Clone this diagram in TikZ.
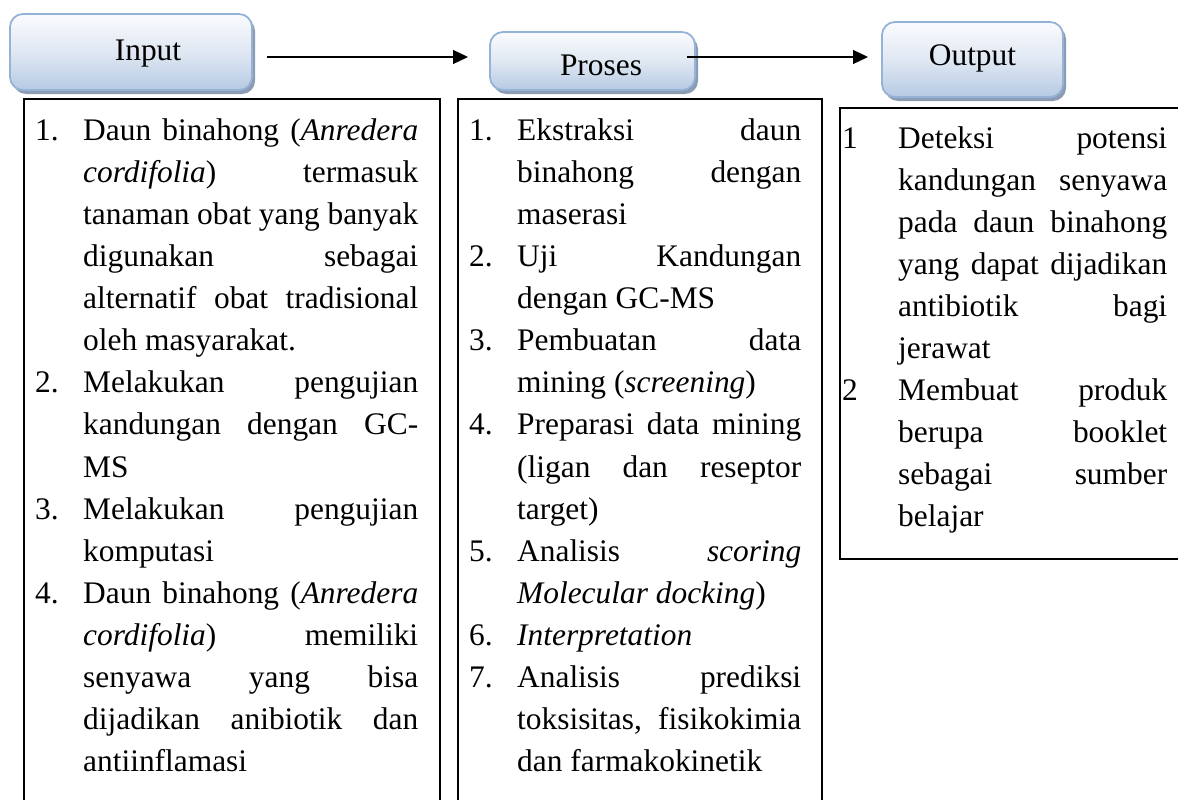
\documentclass[tikz,border=0pt]{standalone}
\usepackage{fontspec}
\setmainfont[Ligatures=NoCommon]{Liberation Serif}
\usetikzlibrary{arrows.meta,shadows}
\definecolor{hdrtop}{RGB}{250,251,253}
\definecolor{hdrmid}{RGB}{224,232,243}
\definecolor{hdrbot}{RGB}{182,202,227}
\definecolor{hdrline}{RGB}{149,179,215}
\definecolor{hdrshadow}{RGB}{140,156,178}
\newcommand{\jl}[2]{\makebox[#1pt][s]{#2}}
\newcommand{\lstfont}{\fontsize{31.4}{42}\selectfont}
\begin{document}
\begin{tikzpicture}[x=1pt,y=-1pt,
  hdr/.style={rectangle, rounded corners=13pt, draw=hdrline, line width=1.8pt,
    top color=hdrtop, bottom color=hdrbot, middle color=hdrmid,
    drop shadow={shadow xshift=3pt, shadow yshift=-4pt, fill=hdrshadow, opacity=1},
    font=\lstfont, inner sep=0pt},
  frame/.style={draw=black, line width=1.3pt},
  flow/.style={draw=black, line width=1.3pt, -{Triangle[length=15pt,width=14pt]}},
  ln/.style={anchor=base west, inner sep=0pt, font=\lstfont}]
\useasboundingbox (0,0) rectangle (1178,800);
\clip (0,0) rectangle (1178,800);

% header boxes
\node[hdr, minimum width=242pt, minimum height=76pt, text height=22pt, text depth=6pt] (inbox) at (131,52) {\hspace*{34pt}Input};
\node[hdr, minimum width=205pt, minimum height=58pt, text height=28pt, text depth=0pt] (prbox) at (592.5,61) {\hspace*{17pt}Proses};
\node[hdr, minimum width=181pt, minimum height=75pt, text height=21pt, text depth=8pt] (outbox) at (972.5,59.5) {Output};

% connectors
\coordinate (a1s) at (267,57);
\coordinate (a1e) at (468,57);
\coordinate (a2s) at (687,57);
\coordinate (a2e) at (868,57);
\draw[flow] (a1s) -- (a1e);
\draw[flow] (a2s) -- (a2e);

% list frames
\draw[frame] (24,805) -- (24,99) -- (440,99) -- (440,805);
\draw[frame] (458,805) -- (458,99) -- (822,99) -- (822,805);
\draw[frame] (1190,108) -- (840,108) -- (840,559) -- (1190,559);

% Input list
\node[ln] (i1n) at (35,140) {1.};
\node[ln] (i1a) at (83,140) {\jl{335}{Daun binahong (\textit{Anredera}}};
\node[ln] (i1b) at (83,182) {\jl{335}{\textit{cordifolia}) termasuk}};
\node[ln] (i1c) at (83,224) {\jl{335}{tanaman obat yang banyak}};
\node[ln] (i1d) at (83,266) {\jl{335}{digunakan sebagai}};
\node[ln] (i1e) at (83,308) {\jl{335}{alternatif obat tradisional}};
\node[ln] (i1f) at (83,350) {oleh masyarakat.};
\node[ln] (i2n) at (35,392) {2.};
\node[ln] (i2a) at (83,392) {\jl{335}{Melakukan pengujian}};
\node[ln] (i2b) at (83,434) {\jl{335}{kandungan dengan GC-}};
\node[ln] (i2c) at (83,477) {MS};
\node[ln] (i3n) at (35,519) {3.};
\node[ln] (i3a) at (83,519) {\jl{335}{Melakukan pengujian}};
\node[ln] (i3b) at (83,561) {komputasi};
\node[ln] (i4n) at (35,603) {4.};
\node[ln] (i4a) at (83,603) {\jl{335}{Daun binahong (\textit{Anredera}}};
\node[ln] (i4b) at (83,645) {\jl{335}{\textit{cordifolia}) memiliki}};
\node[ln] (i4c) at (83,687) {\jl{335}{senyawa yang bisa}};
\node[ln] (i4d) at (83,729) {\jl{335}{dijadikan anibiotik dan}};
\node[ln] (i4e) at (83,771) {antiinflamasi};

% Proses list
\node[ln] (p1n) at (469,140) {1.};
\node[ln] (p1a) at (517,140) {\jl{284}{Ekstraksi daun}};
\node[ln] (p1b) at (517,182) {\jl{284}{binahong dengan}};
\node[ln] (p1c) at (517,224) {maserasi};
\node[ln] (p2n) at (469,266) {2.};
\node[ln] (p2a) at (517,266) {\jl{284}{Uji Kandungan}};
\node[ln] (p2b) at (517,308) {dengan GC-MS};
\node[ln] (p3n) at (469,350) {3.};
\node[ln] (p3a) at (517,350) {\jl{284}{Pembuatan data}};
\node[ln] (p3b) at (517,392) {mining (\textit{screening})};
\node[ln] (p4n) at (469,434) {4.};
\node[ln] (p4a) at (517,434) {\jl{284}{Preparasi data mining}};
\node[ln] (p4b) at (517,477) {\jl{284}{(ligan dan reseptor}};
\node[ln] (p4c) at (517,519) {target)};
\node[ln] (p5n) at (469,561) {5.};
\node[ln] (p5a) at (517,561) {\jl{284}{Analisis \textit{scoring}}};
\node[ln] (p5b) at (517,603) {\textit{Molecular docking})};
\node[ln] (p6n) at (469,645) {6.};
\node[ln] (p6a) at (517,645) {\textit{Interpretation}};
\node[ln] (p7n) at (469,687) {7.};
\node[ln] (p7a) at (517,687) {\jl{284}{Analisis prediksi}};
\node[ln] (p7b) at (517,729) {\jl{284}{toksisitas, fisikokimia}};
\node[ln] (p7c) at (517,771) {dan farmakokinetik};

% Output list
\node[ln] (o1n) at (842,148) {1};
\node[ln] (o1a) at (898,148) {\jl{269}{Deteksi potensi}};
\node[ln] (o1b) at (898,190) {\jl{269}{kandungan senyawa}};
\node[ln] (o1c) at (898,232) {\jl{269}{pada daun binahong}};
\node[ln] (o1d) at (898,274) {\jl{269}{yang dapat dijadikan}};
\node[ln] (o1e) at (898,316) {\jl{269}{antibiotik bagi}};
\node[ln] (o1f) at (898,358) {jerawat};
\node[ln] (o2n) at (842,400) {2};
\node[ln] (o2a) at (898,400) {\jl{269}{Membuat produk}};
\node[ln] (o2b) at (898,442) {\jl{269}{berupa booklet}};
\node[ln] (o2c) at (898,484) {\jl{269}{sebagai sumber}};
\node[ln] (o2d) at (898,526) {belajar};
\end{tikzpicture}
\end{document}
